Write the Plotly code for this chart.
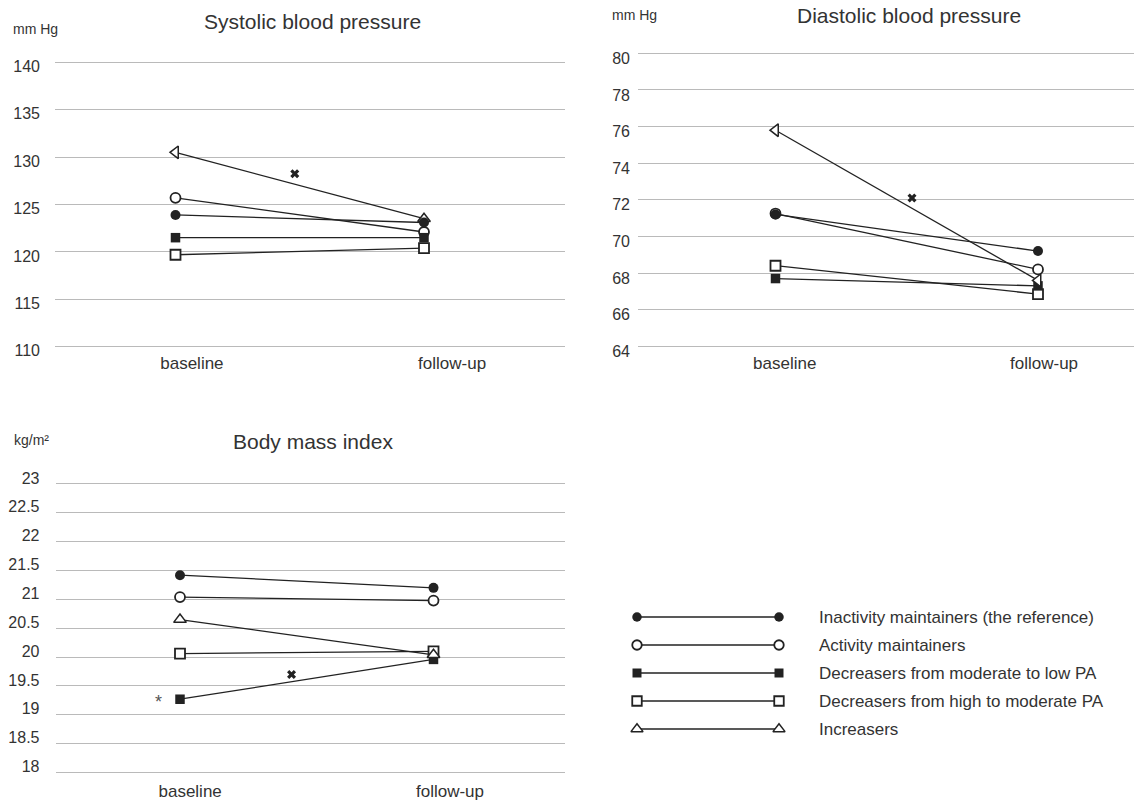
import plotly.graph_objects as go

W, H = 1134, 802

# ---- data ---------------------------------------------------------------
timepoints = ["baseline", "follow-up"]
time_x = [0, 1]

group_names = [
    "Inactivity maintainers (the reference)",
    "Activity maintainers",
    "Decreasers from moderate to low PA",
    "Decreasers from high to moderate PA",
    "Increasers",
]

# Systolic blood pressure (mm Hg)
sbp_inactive = [123.9, 123.1]
sbp_active = [125.7, 122.1]
sbp_dec_mod_low = [121.5, 121.5]
sbp_dec_high_mod = [119.7, 120.4]
sbp_increasers = [130.5, 123.5]

# Diastolic blood pressure (mm Hg)
dbp_inactive = [71.2, 69.2]
dbp_active = [71.25, 68.2]
dbp_dec_mod_low = [67.7, 67.3]
dbp_dec_high_mod = [68.4, 66.85]
dbp_increasers = [75.8, 67.6]

# Body mass index (kg/m2)
bmi_inactive = [21.42, 21.2]
bmi_active = [21.04, 20.98]
bmi_dec_mod_low = [19.27, 19.96]
bmi_dec_high_mod = [20.06, 20.1]
bmi_increasers = [20.65, 20.04]

# significance marks (x) placed between the two time points
sig_x = [0.48, 0.52, 0.44]
sig_y = [128.25, 72.1, 19.7]

# asterisk next to the baseline BMI of the moderate-to-low decreasers
star_x = [-0.085]
star_y = [19.3]

# ---- styles -------------------------------------------------------------
INK = "#222222"
TXT = "#333333"
FONT = "Liberation Sans, Arial, sans-serif"

styles = [
    dict(symbol="circle", color=INK, size=10, lw=0),
    dict(symbol="circle", color="white", size=10, lw=1.8),
    dict(symbol="square", color=INK, size=9.5, lw=0),
    dict(symbol="square", color="white", size=10, lw=1.8),
    dict(symbol="triangle-up", color="white", size=11, lw=1.5),
]
# drawing order (last on top)
draw_order = [3, 1, 2, 4, 0]

panels = [
    dict(name="sbp", xa="x", ya="y",
         series=[sbp_inactive, sbp_active, sbp_dec_mod_low, sbp_dec_high_mod, sbp_increasers],
         tri=["triangle-left", "triangle-up"]),
    dict(name="dbp", xa="x2", ya="y2",
         series=[dbp_inactive, dbp_active, dbp_dec_mod_low, dbp_dec_high_mod, dbp_increasers],
         tri=["triangle-left", "triangle-left"]),
    dict(name="bmi", xa="x3", ya="y3",
         series=[bmi_inactive, bmi_active, bmi_dec_mod_low, bmi_dec_high_mod, bmi_increasers],
         tri=["triangle-up", "triangle-up"]),
]


def x_axis(anchor, left, right, m0, m1, label_pos, standoff):
    per = m1 - m0
    return dict(
        anchor=anchor, automargin=False,
        domain=[left / W, right / W],
        range=[-(m0 - left) / per, 1 + (right - m1) / per],
        showgrid=False, zeroline=False, showline=False,
        tickmode="array", tickvals=label_pos, ticktext=timepoints,
        ticks="", tickfont=dict(size=17, color=TXT, family=FONT),
        ticklabelstandoff=standoff, fixedrange=True,
    )


def y_axis(anchor, p_hi, v_hi, p_lo, v_lo, dtick, pad, standoff, shift):
    scale = (p_lo - p_hi) / (v_hi - v_lo)
    top = p_hi - pad * scale
    bottom = p_lo + pad * scale
    return dict(
        anchor=anchor, automargin=False,
        domain=[1 - bottom / H, 1 - top / H],
        range=[v_lo - pad, v_hi + pad],
        tickmode="linear", tick0=v_lo, dtick=dtick,
        showgrid=True, gridcolor="#bababa", gridwidth=1,
        zeroline=False, showline=False, ticks="",
        tickfont=dict(size=16, color=TXT, family=FONT),
        ticklabelstandoff=standoff, ticklabelshift=shift, fixedrange=True,
    )


fig = go.Figure()

for p in panels:
    for gi in draw_order:
        st = styles[gi]
        sym = p["tri"] if gi == 4 else st["symbol"]
        fig.add_trace(go.Scatter(
            x=time_x, y=p["series"][gi], xaxis=p["xa"], yaxis=p["ya"],
            mode="lines+markers", cliponaxis=False, showlegend=False,
            line=dict(color=INK, width=1.3),
            marker=dict(symbol=sym, size=st["size"], color=st["color"],
                        line=dict(color=INK, width=st["lw"])),
        ))

for i, p in enumerate(panels):
    fig.add_trace(go.Scatter(
        x=[sig_x[i]], y=[sig_y[i]], xaxis=p["xa"], yaxis=p["ya"],
        mode="markers", cliponaxis=False, showlegend=False,
        marker=dict(symbol="x", size=8, color=INK, line=dict(width=0)),
    ))

# ---- legend drawn on its own small axis --------------------------------
legend_rows = list(range(len(group_names)))
for gi in legend_rows:
    st = styles[gi]
    fig.add_trace(go.Scatter(
        x=[0, 1], y=[gi, gi], xaxis="x4", yaxis="y4",
        mode="lines+markers", cliponaxis=False, showlegend=False,
        line=dict(color=INK, width=1.3),
        marker=dict(symbol=st["symbol"], size=st["size"] - 0.5, color=st["color"],
                    line=dict(color=INK, width=st["lw"])),
    ))

layout_axes = dict(
    xaxis=x_axis("y", 55, 565, 175.5, 424, [0.066, 1.113], 1),
    yaxis=y_axis("x", 62.3, 140, 346.7, 110, 5, 0.4, 14, 4),
    xaxis2=x_axis("y2", 638, 1134, 775.5, 1038, [0.035, 1.023], 1),
    yaxis2=y_axis("x2", 53.3, 80, 346.3, 64, 2, 0.2, 7, 5),
    xaxis3=x_axis("y3", 55.5, 565, 180, 433.5, [0.04, 1.065], 4),
    yaxis3=y_axis("x3", 484, 23, 772.5, 18, 0.5, 0.05, 15, -6),
    xaxis4=dict(anchor="y4", domain=[637 / W, 779 / W], range=[0, 1], visible=False,
                fixedrange=True, automargin=False),
    yaxis4=dict(anchor="x4", domain=[1 - 743 / H, 1 - 603 / H], range=[4.5, -0.5],
                visible=False, fixedrange=True, automargin=False),
)

annotations = []
for gi, name in enumerate(group_names):
    annotations.append(dict(
        text=name, x=817 / W, xref="paper", y=gi, yref="y4",
        xanchor="left", yanchor="middle", showarrow=False,
        font=dict(size=17, color=TXT, family=FONT),
    ))

titles = [
    ("Systolic blood pressure", 312, 22),
    ("Diastolic blood pressure", 909, 16),
    ("Body mass index", 313, 441),
]
for text, cx, cy in titles:
    annotations.append(dict(
        text=text, x=cx / W, y=1 - cy / H, xref="paper", yref="paper",
        xanchor="center", yanchor="middle", showarrow=False,
        font=dict(size=21, color=TXT, family=FONT),
    ))

units = [("mm Hg", 11, 29), ("mm Hg", 610, 15), ("kg/m²", 12, 440)]
for text, lx, cy in units:
    annotations.append(dict(
        text=text, x=lx / W, y=1 - cy / H, xref="paper", yref="paper",
        xanchor="left", yanchor="middle", showarrow=False,
        font=dict(size=14, color=TXT, family=FONT),
    ))

annotations.append(dict(
    text="*", x=star_x[0], y=star_y[0], xref="x3", yref="y3",
    xanchor="center", yanchor="middle", yshift=-5, showarrow=False,
    font=dict(size=18, color="#555555", family=FONT),
))

fig.update_layout(
    template="none",
    width=W, height=H,
    margin=dict(l=0, r=0, t=0, b=0, autoexpand=False),
    paper_bgcolor="white", plot_bgcolor="white",
    showlegend=False,
    annotations=annotations,
    **layout_axes,
)

fig.write_html("out.html")
